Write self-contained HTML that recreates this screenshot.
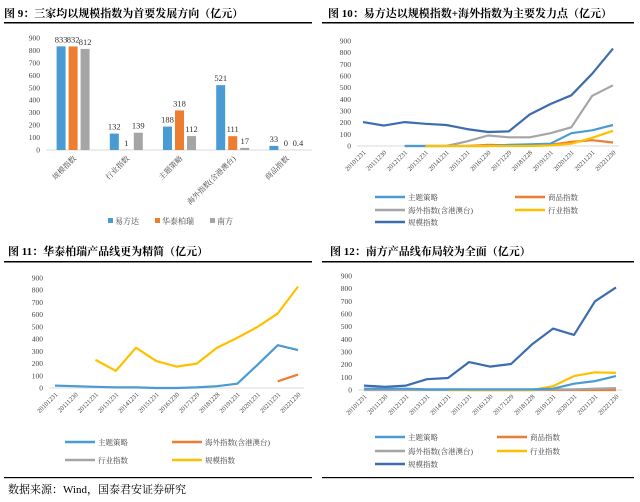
<!DOCTYPE html>
<html><head><meta charset="utf-8"><style>
body{margin:0;background:#fff}
svg{display:block;font-family:"Liberation Serif","Noto Serif CJK SC",serif}
</style></head><body>
<svg id="s" width="640" height="502" viewBox="0 0 640 502">
<g><text x="4" y="17" font-size="11" font-weight="bold">图 9：三家均以规模指数为首要发展方向（亿元）</text><rect x="4" y="22" width="308" height="1.5" fill="#000"/></g>
<g><text x="328" y="17" font-size="11" font-weight="bold">图 10：易方达以规模指数+海外指数为主要发力点（亿元）</text><rect x="322" y="22" width="312" height="1.5" fill="#000"/></g>
<g><text x="8" y="255" font-size="11" font-weight="bold">图 11：华泰柏瑞产品线更为精简（亿元）</text><rect x="4" y="261" width="308" height="1.5" fill="#000"/></g>
<g><text x="330" y="255" font-size="11" font-weight="bold">图 12：南方产品线布局较为全面（亿元）</text><rect x="322" y="261" width="312" height="1.5" fill="#000"/></g>
<rect x="4" y="477" width="308" height="1.2" fill="#000"/>
<rect x="322" y="477" width="312" height="1.2" fill="#000"/>
<text x="8" y="493" font-size="11">数据来源：Wind，国泰君安证券研究</text>
</svg>
<script>
// ---- data ----
const barCats=["规模指数","行业指数","主题策略","海外指数(含港澳台)","商品指数"];
const barYFD=[833,132,188,521,33];
const barHTBR=[832,1,318,111,0];
const barNF=[812,139,112,17,0.4];
const barLabNF=["812","139","112","17","0.4"];
const dates=["20101231","20111230","20121231","20131231","20141231","20151231","20161230","20171229","20181228","20191231","20201231","20211231","20221230"];
const yTicks=[0,100,200,300,400,500,600,700,800,900];
// chart 10 (易方达)
const e_theme=[null,null,0,0,0,0,0,10,15,20,110,135,180];
const e_comm=[null,null,null,null,null,0,10,5,5,10,35,50,30];
const e_over=[null,null,0,0,0,40,90,75,75,110,160,430,520];
const e_ind=[null,null,null,0,0,0,0,0,0,5,20,70,130];
const e_scale=[205,175,205,190,180,145,120,125,270,360,435,620,835];
// chart 11 (华泰柏瑞)
const h_theme=[20,15,10,5,5,0,0,5,15,35,190,350,310];
const h_over=[null,null,null,null,null,null,null,null,null,null,null,55,110];
const h_ind=[null,null,null,null,null,null,null,null,null,null,null,null,null];
const h_scale=[null,null,230,140,330,220,175,200,330,410,500,610,830];
// chart 12 (南方)
const n_theme=[10,10,10,5,5,5,5,5,5,10,50,70,110];
const n_comm=[null,null,null,null,null,0,0,0,0,0,0,0,0];
const n_over=[0,0,0,0,0,0,0,0,0,5,5,10,15];
const n_ind=[null,null,null,null,0,0,0,0,0,30,110,140,135];
const n_scale=[35,25,35,85,95,220,185,205,360,485,435,700,810];

const S=document.getElementById('s');const NS="http://www.w3.org/2000/svg";
function el(t,a,p){const e=document.createElementNS(NS,t);for(const k in a)e.setAttribute(k,a[k]);(p||S).appendChild(e);return e;}
const C={theme:"#4a9bd4",comm:"#ed7d31",over:"#a5a5a5",ind:"#ffc000",scale:"#3d6cb0"};

function yAxis(g,x,y0,y1){yTicks.forEach(v=>{const t=el('text',{x:x,y:y0-(v/900)*(y0-y1)+2.5,'font-size':7.5,'text-anchor':'end',fill:'#444'},g);t.textContent=v;});}

// ---- chart 9 ----
(function(){
const g=el('g',{});
const y0=150,y1=38,x0=46,x1=312,step=(x1-x0)/5;
const Y=v=>y0-v/900*(y0-y1);
yAxis(g,40,y0,y1);
el('line',{x1:x0,y1:y0,x2:x1,y2:y0,stroke:'#d9d9d9'},g);
const series=[[barYFD,"#4a9bd4","yfd"],[barHTBR,"#ed7d31","htbr"],[barNF,"#a5a5a5","nf"]];
barCats.forEach((c,i)=>{
 const cx=x0+step*(i+0.5);
 series.forEach((s,j)=>{const v=s[0][i];const bx=cx-16+j*12;
  const r=el('rect',{x:bx,y:Y(v),width:9,height:y0-Y(v),fill:s[1]},g);
  
  const t=el('text',{x:bx+4.5,y:Y(v)-4,'font-size':8.5,'text-anchor':'middle',fill:'#333'},g);
  
  t.textContent=j==2?barLabNF[i]:String(v);});
 const t=el('text',{x:cx+4,y:y0+9,'font-size':7.5,'text-anchor':'end',fill:'#444',transform:`rotate(-45 ${cx+4} ${y0+9})`},g);
 t.textContent=c;
});
const lg=[["易方达","#4a9bd4",108],["华泰柏瑞","#ed7d31",155],["南方","#a5a5a5",210]];
lg.forEach(l=>{const gg=el('g',{},g);
 el('rect',{x:l[2],y:218,width:5,height:5,fill:l[1]},gg);
 const t=el('text',{x:l[2]+7,y:224,'font-size':8,fill:'#444'},gg);t.textContent=l[0];});
})();

function lineChart(name,x0,x1,y0,y1,ser,legend){
 const g=el('g',{});
 const X=i=>x0+i*(x1-x0)/(dates.length-1),Y=v=>y0-v/900*(y0-y1);
 yAxis(g,x0-12,y0,y1);
 el('line',{x1:x0-6,y1:y0,x2:x1+6,y2:y0,stroke:'#d9d9d9'},g);
 dates.forEach((d,i)=>{const t=el('text',{x:X(i)+3,y:y0+7,'font-size':6.5,'text-anchor':'end',fill:'#444',transform:`rotate(-45 ${X(i)+3} ${y0+7})`},g);
  t.textContent=d;});
 ser.forEach(s=>{let d="",pen=false;s[0].forEach((v,i)=>{if(v==null){pen=false;return;}d+=(pen?"L":"M")+X(i).toFixed(1)+" "+Y(v).toFixed(1);pen=true;});
  const p=el('path',{d:d,fill:'none',stroke:C[s[1]],'stroke-width':2.2,'stroke-linejoin':'round'},g);
  });
 legend.forEach(l=>{const gg=el('g',{},g);
  el('line',{x1:l[2],y1:l[3],x2:l[2]+30,y2:l[3],stroke:C[l[1]],'stroke-width':2.5},gg);
  const t=el('text',{x:l[2]+33,y:l[3]+3,'font-size':7.5,fill:'#444'},gg);t.textContent=l[0];});
}
const L=["主题策略","商品指数","海外指数(含港澳台)","行业指数","规模指数"];
lineChart('chart10-lines',363,613,146,41,[[e_over,'over'],[e_comm,'comm'],[e_theme,'theme'],[e_ind,'ind'],[e_scale,'scale']],
 [[L[0],'theme',375,197],[L[1],'comm',515,197],[L[2],'over',375,210],[L[3],'ind',515,210],[L[4],'scale',375,222]]);
lineChart('chart11-lines',55,298,388,278,[[h_ind,'over'],[h_theme,'theme'],[h_over,'comm'],[h_scale,'ind']],
 [[L[0],'theme',65,442],["海外指数(含港澳台)",'comm',172,442],[L[3],'over',65,460],[L[4],'ind',172,460]]);
lineChart('chart12-lines',364,616,390,276,[[n_comm,'comm'],[n_over,'over'],[n_ind,'ind'],[n_theme,'theme'],[n_scale,'scale']],
 [[L[0],'theme',375,437],[L[1],'comm',497,437],[L[2],'over',375,451],[L[3],'ind',497,451],[L[4],'scale',375,464]]);
</script>
</body></html>
